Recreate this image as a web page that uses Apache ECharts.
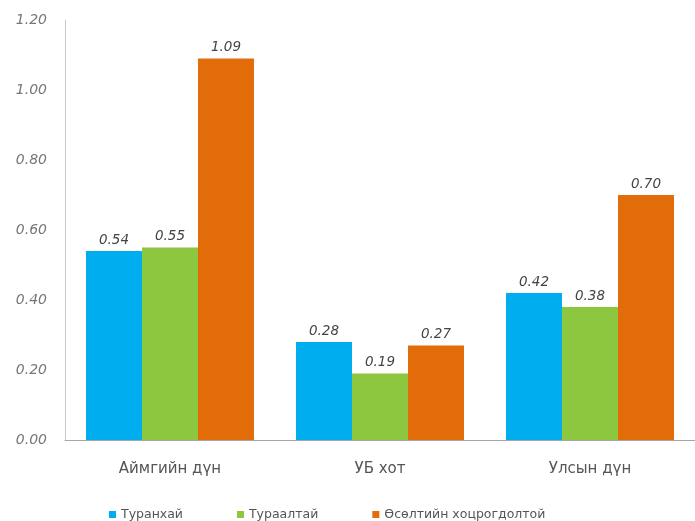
<!DOCTYPE html>
<html>
<head>
<meta charset="utf-8">
<script src="https://cdn.jsdelivr.net/npm/echarts@6/dist/echarts.min.js"></script>
<style>
  html, body { margin: 0; padding: 0; background: #fff; }
  #chart { width: 695px; height: 521px; }
</style>
</head>
<body>
<div id="chart"></div>
<script>
var categories = ['Аймгийн дүн', 'УБ хот', 'Улсын дүн']
var seriesNames = ['Туранхай', 'Тураалтай', 'Өсөлтийн хоцрогдолтой']
var wasting = [0.54, 0.28, 0.42]
var underweight = [0.55, 0.19, 0.38]
var stunting = [1.09, 0.27, 0.70]
var colors = ['#00aeef', '#8dc63f', '#e36c0a']

var seriesValues = [wasting, underweight, stunting]

var myChart = echarts.init(document.getElementById('chart'))
var option = {
  animation: false,
  grid: {
    left: 65,
    right: 0,
    top: 20,
    bottom: 81
  },
  legend: {
    top: 503,
    left: 104,
    itemWidth: 7,
    itemHeight: 7,
    itemGap: 54,
    icon: 'rect',
    textStyle: {
      color: '#555',
      fontSize: 12.5,
      fontFamily: 'DejaVu Sans'
    },
    data: seriesNames
  },
  xAxis: {
    type: 'category',
    data: categories,
    axisLine: {
      lineStyle: { color: '#a6a6a6' }
    },
    axisTick: { show: false },
    axisLabel: {
      color: '#555',
      fontSize: 15,
      margin: 22,
      fontFamily: 'DejaVu Sans'
    }
  },
  yAxis: {
    type: 'value',
    min: 0,
    max: 1.2,
    interval: 0.2,
    splitLine: { show: false },
    axisLine: {
      show: true,
      lineStyle: { color: '#c8c8c8' }
    },
    axisTick: { show: false },
    axisLabel: {
      color: '#777',
      fontSize: 14,
      fontStyle: 'italic',
      margin: 18,
      fontFamily: 'DejaVu Sans',
      formatter: function(v) {
        return v.toFixed(2)
      }
    }
  },
  series: seriesNames.map(function(name, i) {
    return {
      name: name,
      type: 'bar',
      data: seriesValues[i],
      barGap: '0%',
      barCategoryGap: '20%',
      itemStyle: { color: colors[i] },
      label: {
        show: true,
        position: 'top',
        distance: 4,
        color: '#444',
        fontSize: 13.5,
        fontStyle: 'italic',
        fontFamily: 'DejaVu Sans',
        formatter: function(p) {
          return p.value.toFixed(2)
        }
      }
    }
  })
}
myChart.setOption(option)
</script>
</body>
</html>
